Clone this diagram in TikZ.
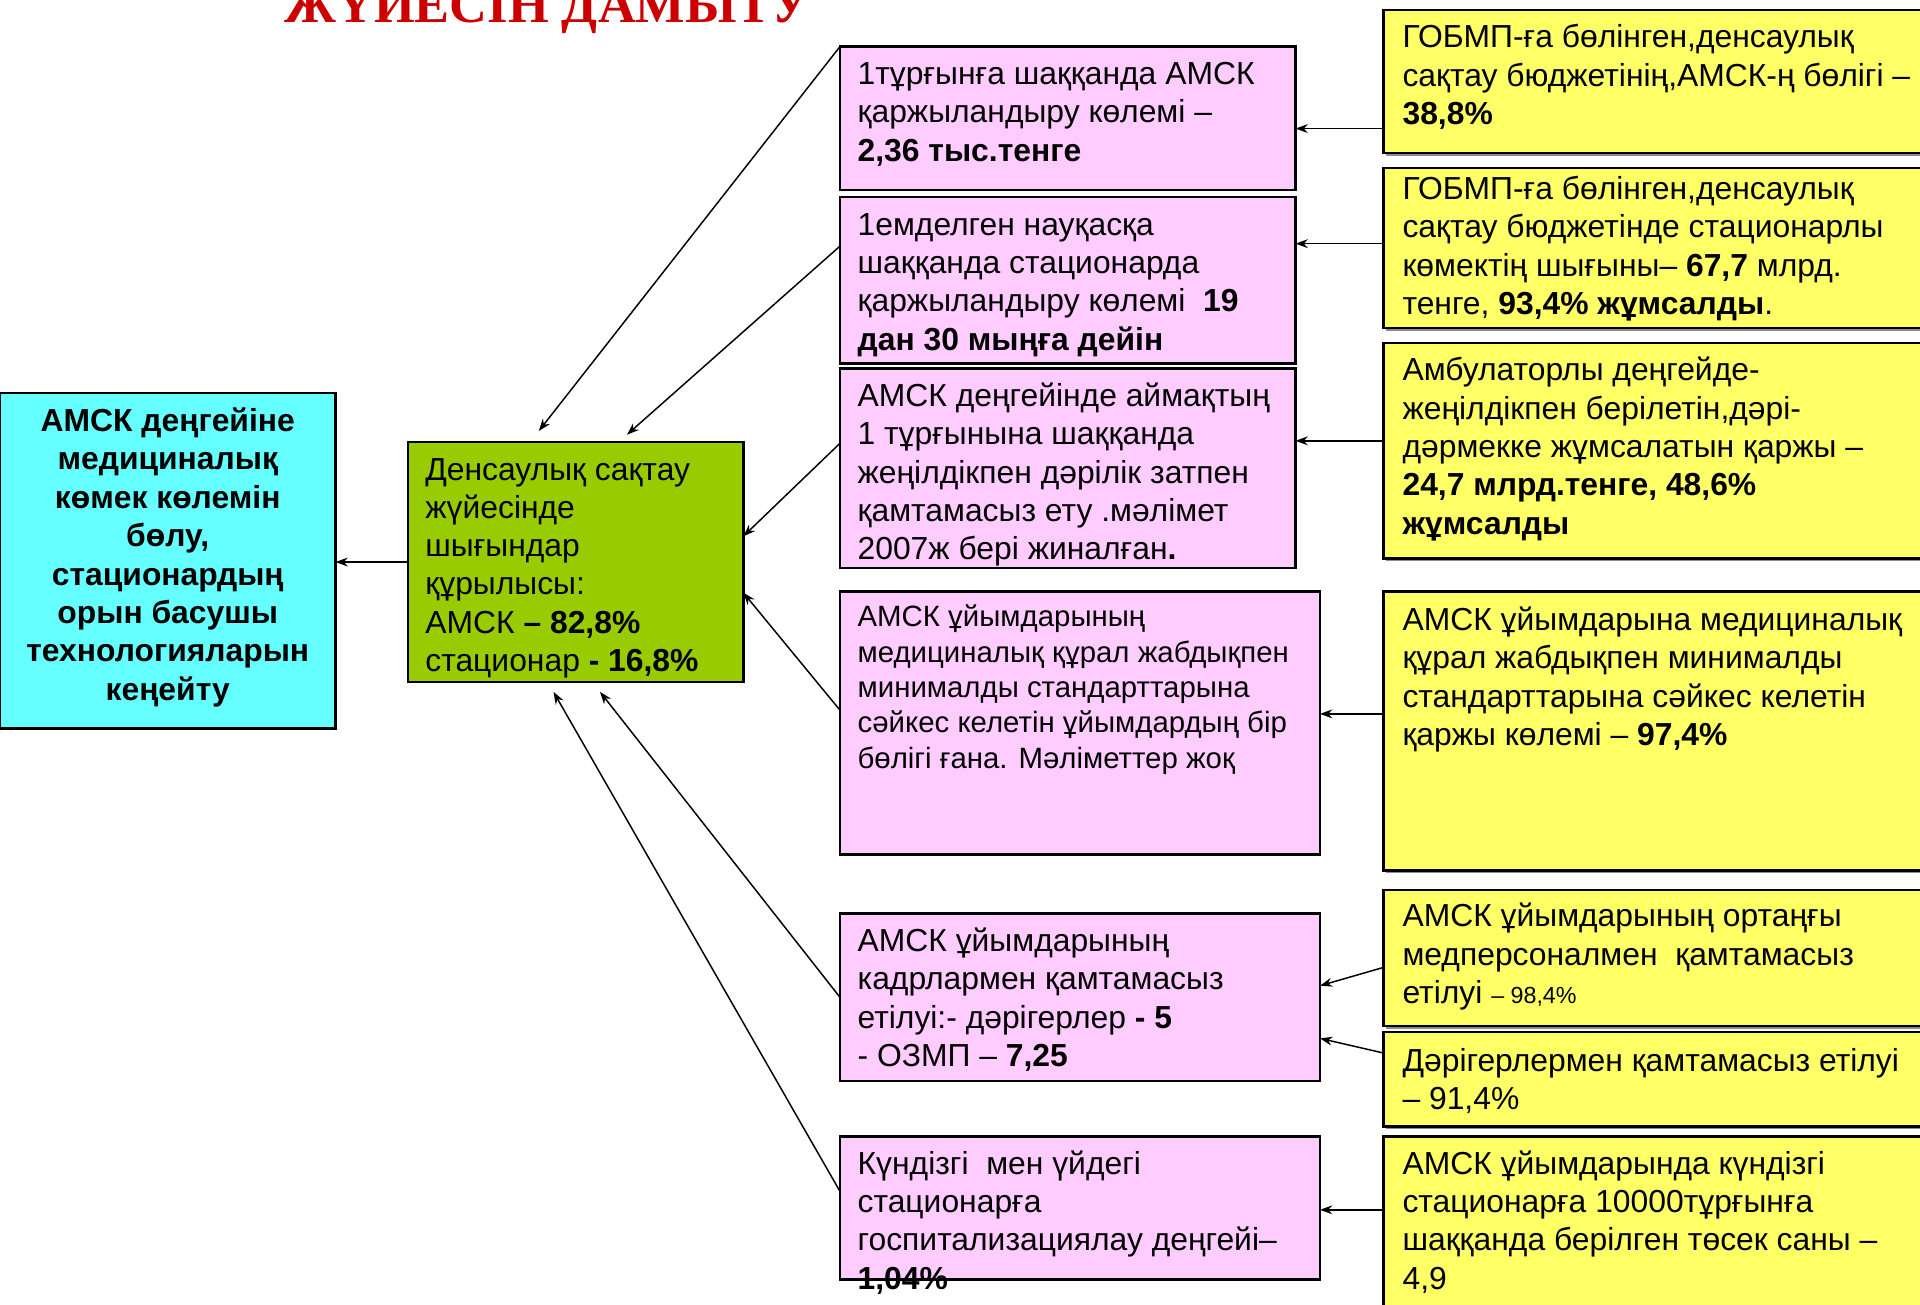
\documentclass[tikz,border=0pt]{standalone}
\usepackage{fontspec}
\setmainfont{Liberation Sans}
\newfontfamily\titlefont{Liberation Serif}
\usetikzlibrary{arrows.meta,fit,shadows}
\definecolor{cyanbox}{HTML}{66FFFF}
\definecolor{greenbox}{HTML}{99CC00}
\definecolor{pinkbox}{HTML}{FFCCFF}
\definecolor{yellowbox}{HTML}{FFFF66}
\definecolor{titlered}{HTML}{CC0000}
\tikzset{
  box/.style={draw=black, line width=1pt, inner sep=0pt, outer sep=0pt},
  cbox/.style={box, fill=cyanbox},
  gbox/.style={box, fill=greenbox},
  pbox/.style={box, fill=pinkbox},
  ybox/.style={box, fill=yellowbox, drop shadow={shadow xshift=1pt, shadow yshift=-1pt, fill=black!45, opacity=1}},
  txt/.style={anchor=base west, align=left, inner sep=0pt, font=\fontsize{13}{15.65}\selectfont},
  txtsmall/.style={txt, font=\fontsize{12}{14.4}\selectfont},
  ctxt/.style={anchor=base, align=center, inner sep=0pt, font=\fontsize{13}{15.7}\selectfont\bfseries},
  conn/.style={-{Stealth[length=5pt,width=3.6pt]}, line width=0.6pt},
}
\begin{document}
\begin{tikzpicture}[x=0.5pt,y=-0.5pt]
\clip (0,0) rectangle (1568,1065);
\fill[white] (0,0) rectangle (1568,1065);

% title (cut off at top)
\node[font=\titlefont\bfseries\fontsize{21.4}{25}\selectfont, text=titlered, anchor=base, inner sep=0pt] (title) at (447,18) {ЖҮЙЕСІН ДАМЫТУ};

% boxes
\node[cbox, fit={(0,321) (274,595)}] (c) {};
\node[gbox, fit={(333,361) (607,557)}] (g) {};
\node[pbox, fit={(686,38) (1058,155)}] (p1) {};
\node[pbox, fit={(686,161) (1058,297)}] (p2) {};
\node[pbox, fit={(686,301) (1058,464)}] (p3) {};
\node[pbox, fit={(686,483) (1078,698)}] (p4) {};
\node[pbox, fit={(686,746) (1078,883)}] (p5) {};
\node[pbox, fit={(686,928) (1078,1045)}] (p6) {};
\node[ybox, fit={(1130,8) (1590,125)}] (y1) {};
\node[ybox, fit={(1130,137) (1590,268)}] (y2) {};
\node[ybox, fit={(1130,280) (1590,456)}] (y3) {};
\node[ybox, fit={(1130,483) (1590,711)}] (y4) {};
\node[ybox, fit={(1130,727) (1590,838)}] (y5) {};
\node[ybox, fit={(1130,843) (1590,920)}] (y6) {};
\node[ybox, fit={(1130,928) (1590,1075)}] (y7) {};

% texts (anchored at the baseline of their last line)
\node[ctxt] (ct) at (137,572) {АМСК деңгейіне\\медициналық\\көмек көлемін\\бөлу,\\стационардың\\орын басушы\\технологияларын\\кеңейту};
\node[txt] (gt) at (347,548.5) {Денсаулық сақтау\\жүйесінде\\шығындар\\құрылысы:\\АМСК \textbf{– 82,8\%}\\стационар \textbf{- 16,8\%}};
\node[txt] (p1t) at (700,131.6) {1тұрғынға шаққанда АМСК\\қаржыландыру көлемі –\\\textbf{2,36 тыс.тенге}};
\node[txt] (p2t) at (700,286) {1емделген науқасқа\\шаққанда стационарда\\қаржыландыру көлемі\ \ \textbf{19}\\\textbf{дан 30 мыңға дейін}};
\node[txt] (p3t) at (700,457.2) {АМСК деңгейінде аймақтың\\1 тұрғынына шаққанда\\жеңілдікпен дәрілік затпен\\қамтамасыз ету .мәлімет\\2007ж бері жиналған\textbf{.}};
\node[txtsmall] (p4t) at (700,627.2) {АМСК ұйымдарының\\медициналық құрал жабдықпен\\минималды стандарттарына\\сәйкес келетін ұйымдардың бір\\бөлігі ғана. Мәліметтер жоқ};
\node[txt] (p5t) at (700,870.9) {АМСК ұйымдарының\\кадрлармен қамтамасыз\\етілуі:- дәрігерлер \textbf{- 5}\\- ОЗМП – \textbf{7,25}};
\node[txt] (p6t) at (700,1052.9) {Күндізгі\ \ мен үйдегі\\стационарға\\госпитализациялау деңгейі–\\\textbf{1,04\%}};
\node[txt] (y1t) at (1145,101.6) {ГОБМП-ға бөлінген,денсаулық\\сақтау бюджетінің,АМСК-ң бөлігі –\\\textbf{38,8\%}};
\node[txt] (y2t) at (1145,256.9) {ГОБМП-ға бөлінген,денсаулық\\сақтау бюджетінде стационарлы\\көмектің шығыны– \textbf{67,7} млрд.\\тенге, \textbf{93,4\% жұмсалды}.};
\node[txt] (y3t) at (1145,436.2) {Амбулаторлы деңгейде-\\жеңілдікпен берілетін,дәрі-\\дәрмекке жұмсалатын қаржы –\\\textbf{24,7 млрд.тенге, 48,6\%}\\\textbf{жұмсалды}};
\node[txt] (y4t) at (1145,608.9) {АМСК ұйымдарына медициналық\\құрал жабдықпен минималды\\стандарттарына сәйкес келетін\\қаржы көлемі – \textbf{97,4\%}};
\node[txt] (y5t) at (1145,819.6) {АМСК ұйымдарының ортаңғы\\медперсоналмен\ \ қамтамасыз\\етілуі {\fontsize{9.5}{11}\selectfont – 98,4\%}};
\node[txt] (y6t) at (1145,906) {Дәрігерлермен қамтамасыз етілуі\\– 91,4\%};
\node[txt] (y7t) at (1145,1052.9) {АМСК ұйымдарында күндізгі\\стационарға 10000тұрғынға\\шаққанда берілген төсек саны –\\4,9};

% arrow end points near the green box
\coordinate (a1) at (440,352);
\coordinate (a2) at (512,355);
\coordinate (a5) at (490,565);
\coordinate (a6) at (452,565);

% connectors into the green box
\draw[conn] (p1.north west) -- (a1);
\draw[conn] ([yshift=14pt]p2.west) -- (a2);
\draw[conn] ([yshift=10.25pt]p3.west) -- ([yshift=10.5pt]g.east);
\draw[conn] ([yshift=5.25pt]p4.west) -- ([yshift=-12.5pt]g.east);
\draw[conn] (p5.west) -- (a5);
\draw[conn] ([yshift=6.75pt]p6.west) -- (a6);

% green -> cyan
\draw[conn] (g.west) -- (g.west -| c.east);

% yellow -> pink
\draw[conn] ([yshift=-19.25pt]y1.west) -- ([yshift=-19.25pt]y1.west -| p1.east);
\draw[conn] ([yshift=1.75pt]y2.west) -- ([yshift=1.75pt]y2.west -| p2.east);
\draw[conn] ([yshift=4pt]y3.west) -- ([yshift=4pt]y3.west -| p3.east);
\draw[conn] ([yshift=7pt]y4.west) -- ([yshift=7pt]y4.west -| p4.east);
\draw[conn] ([yshift=-3.75pt]y5.west) -- ([yshift=4.75pt]p5.east);
\draw[conn] ([yshift=10.75pt]y6.west) -- ([yshift=-16.75pt]p5.east);
\draw[conn] ([yshift=6.75pt]y7.west) -- ([yshift=6.75pt]y7.west -| p6.east);
\end{tikzpicture}
\end{document}
